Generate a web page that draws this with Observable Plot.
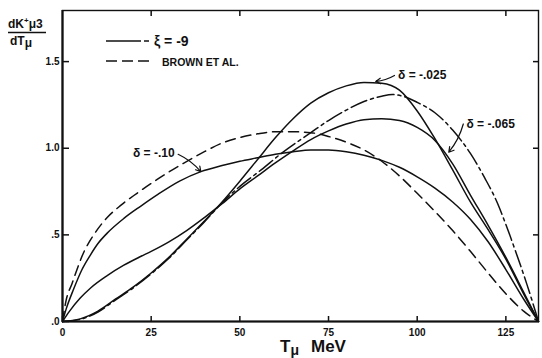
<!DOCTYPE html>
<html>
<head>
<meta charset="utf-8">
<script src="https://cdn.jsdelivr.net/npm/d3@7"></script>
<script src="https://cdn.jsdelivr.net/npm/@observablehq/plot@0.6"></script>
<style>
  html, body { margin: 0; padding: 0; background: #fff; }
  #chart svg { display: block; }
</style>
</head>
<body>
<div id="chart"></div>
<script>
// Axis ticks and their printed labels
const xTicks = [0, 25, 50, 75, 100, 125];
const xTickLabels = ["0", "25", "50", "75", "100", "125"];
const yTicks = [0, 0.5, 1.0, 1.5];
const yTickLabels = [".0", ".5", "1.0", "1.5"];

// Brown et al. spectrum (dashed)
const brownT = [0, 1, 2.7, 6, 8.8, 12.6, 16.4, 21, 26.7, 33, 40, 45, 50, 55, 60, 65, 70, 75, 80, 85, 90, 95, 100, 105, 110, 115, 120, 125, 130, 134.2];
const brownV = [0, 0.12, 0.22, 0.40, 0.50, 0.60, 0.67, 0.74, 0.82, 0.90, 0.98, 1.03, 1.062, 1.083, 1.095, 1.095, 1.09, 1.068, 1.035, 0.99, 0.925, 0.84, 0.74, 0.635, 0.525, 0.405, 0.28, 0.16, 0.06, 0];

// delta = -.10 (solid)
const d10T = [0, 1, 3.2, 5.5, 7.9, 10, 12.6, 17.3, 22, 27, 33, 39, 45, 50, 55, 60, 65, 70, 75, 80, 85, 90, 95, 100, 105, 110, 115, 120, 125, 130, 134.2];
const d10V = [0, 0.07, 0.19, 0.30, 0.385, 0.45, 0.51, 0.595, 0.665, 0.735, 0.81, 0.865, 0.90, 0.925, 0.945, 0.965, 0.98, 0.99, 0.99, 0.98, 0.96, 0.93, 0.89, 0.835, 0.77, 0.69, 0.59, 0.46, 0.30, 0.13, 0];

// delta = -.065 (solid)
const d065T = [0, 2, 5, 8, 12.6, 17.3, 22, 25, 30, 35, 40, 45, 50, 55, 60, 65, 70, 75, 80, 85, 90, 95, 100, 105, 110, 115, 120, 125, 130, 134.2];
const d065V = [0, 0.06, 0.135, 0.195, 0.265, 0.325, 0.375, 0.405, 0.46, 0.525, 0.60, 0.68, 0.765, 0.84, 0.915, 0.985, 1.05, 1.10, 1.14, 1.165, 1.17, 1.16, 1.12, 1.045, 0.91, 0.73, 0.555, 0.37, 0.17, 0];

// delta = -.025 (solid)
const d025T = [0, 5, 10, 15, 20, 25, 30, 35, 40, 45, 50, 55, 60, 65, 70, 75, 80, 85, 90, 95, 100, 105, 110, 115, 120, 125, 130, 134.2];
const d025V = [0, 0.015, 0.06, 0.13, 0.20, 0.28, 0.37, 0.475, 0.58, 0.69, 0.81, 0.935, 1.06, 1.17, 1.26, 1.32, 1.36, 1.38, 1.375, 1.335, 1.215, 1.055, 0.875, 0.69, 0.53, 0.36, 0.16, 0];

// xi = -9 (dash-dot)
const xiT = [0, 5, 10, 15, 20, 25, 30, 35, 40, 45, 50, 56, 62, 70, 75, 80, 85, 90, 93, 96, 100, 105, 110, 115, 119, 122.7, 125, 128, 131, 134.2];
const xiV = [0, 0.012, 0.055, 0.125, 0.195, 0.275, 0.365, 0.47, 0.575, 0.685, 0.78, 0.875, 0.975, 1.09, 1.16, 1.22, 1.27, 1.30, 1.31, 1.30, 1.265, 1.205, 1.105, 0.97, 0.83, 0.68, 0.56, 0.39, 0.21, 0];

// Curve labels: text, label anchor point, arrow tail and arrow tip (T, value)
const noteText = ["\u03B4 = -.10", "\u03B4 = -.025", "\u03B4 = -.065"];
const noteT = [31.6, 94.6, 113.9];
const noteV = [0.97, 1.42, 1.14];
const arrowFromT = [32.6, 93.6, 113.0];
const arrowFromV = [0.965, 1.42, 1.14];
const arrowToT = [39, 88.3, 108.9];
const arrowToV = [0.865, 1.385, 0.977];

const rows = (T, V) => T.map((t, i) => ({T: t, v: V[i]}));
const notes = noteText.map((s, i) => ({
  text: s, T: noteT[i], v: noteV[i],
  x1: arrowFromT[i], y1: arrowFromV[i], x2: arrowToT[i], y2: arrowToV[i]
}));

const ink = "#111";
const font = "'Liberation Sans', 'DejaVu Sans', Arial, sans-serif";
const lineStyle = {x: "T", y: "v", stroke: ink, strokeWidth: 1.5, curve: "monotone-x"};
const blank = () => "";

const chart = Plot.plot({
  width: 542,
  height: 358,
  marginLeft: 62,
  marginRight: 4,
  marginTop: 10,
  marginBottom: 37,
  style: {fontFamily: font, fontSize: "10px", fontWeight: "bold", background: "#fff", color: ink},
  x: {domain: [0, 134.2]},
  y: {domain: [0, 1.795]},
  marks: [
    Plot.frame({stroke: ink, strokeWidth: 1.4}),
    Plot.ruleX([0], {stroke: ink, strokeWidth: 2.2}),
    Plot.ruleY([0], {stroke: ink, strokeWidth: 2.2}),
    Plot.axisX({ticks: xTicks, tickSize: -5, tickPadding: 12, strokeWidth: 1.5,
      tickFormat: d => xTickLabels[xTicks.indexOf(d)], label: null}),
    Plot.axisX({anchor: "top", ticks: xTicks.slice(1), tickSize: -5, tickFormat: blank, label: null, strokeWidth: 1.5}),
    Plot.axisY({ticks: yTicks, tickSize: -7, tickPadding: 10, strokeWidth: 1.5,
      tickFormat: d => yTickLabels[yTicks.indexOf(d)], label: null}),
    Plot.axisY({anchor: "right", ticks: yTicks.slice(1), tickSize: -6, tickFormat: blank, label: null, strokeWidth: 1.5}),
    Plot.line(rows(brownT, brownV), {...lineStyle, strokeDasharray: "10,6"}),
    Plot.line(rows(d10T, d10V), lineStyle),
    Plot.line(rows(d065T, d065V), lineStyle),
    Plot.line(rows(d025T, d025V), lineStyle),
    Plot.line(rows(xiT, xiV), {...lineStyle, strokeDasharray: "17,4,3,4"}),
    Plot.arrow(notes, {x1: "x1", y1: "y1", x2: "x2", y2: "y2", bend: 12, stroke: ink, strokeWidth: 1.2, headLength: 7}),
    Plot.text(notes.slice(0, 1), {x: "T", y: "v", text: "text", textAnchor: "end", fontSize: 12, fill: ink}),
    Plot.text(notes.slice(1), {x: "T", y: "v", text: "text", textAnchor: "start", fontSize: 12, fill: ink})
  ]
});

document.getElementById("chart").appendChild(chart);

// Axis titles and legend drawn into the same SVG
const svg = d3.select(chart);
const g = svg.append("g").attr("fill", ink).attr("font-family", font)
  .attr("font-weight", "bold").attr("text-anchor", "start");

// y title as a fraction: dK+mu3 / dT mu
const num = g.append("text").attr("x", 8).attr("y", 28).attr("font-size", 12);
num.append("tspan").text("dK");
num.append("tspan").attr("font-size", 8).attr("dy", -5).text("+");
num.append("tspan").attr("dy", 5).text("\u03BC3");
g.append("line").attr("x1", 8).attr("x2", 46).attr("y1", 32.5).attr("y2", 32.5)
  .attr("stroke", ink).attr("stroke-width", 1.3);
const den = g.append("text").attr("x", 10).attr("y", 45).attr("font-size", 12);
den.append("tspan").text("dT");
den.append("tspan").attr("dy", 2).text("\u03BC");

// x title
const xt = g.append("text").attr("x", 280).attr("y", 352).attr("font-size", 17);
xt.append("tspan").text("T");
xt.append("tspan").attr("font-size", 14).attr("dy", 3).text("\u03BC");
xt.append("tspan").attr("dy", -3).attr("dx", 12).text("MeV");

// legend
g.append("line").attr("x1", 106).attr("x2", 141).attr("y1", 41).attr("y2", 41)
  .attr("stroke", ink).attr("stroke-width", 1.5);
g.append("line").attr("x1", 144).attr("x2", 149).attr("y1", 41).attr("y2", 41)
  .attr("stroke", ink).attr("stroke-width", 1.5);
g.append("text").attr("x", 154).attr("y", 46).attr("font-size", 14).text("\u03BE = -9");
g.append("line").attr("x1", 106).attr("x2", 149).attr("y1", 61).attr("y2", 61)
  .attr("stroke", ink).attr("stroke-width", 1.5).attr("stroke-dasharray", "11,5");
g.append("text").attr("x", 162).attr("y", 65.5).attr("font-size", 10.5).text("BROWN ET AL.");
</script>
</body>
</html>
